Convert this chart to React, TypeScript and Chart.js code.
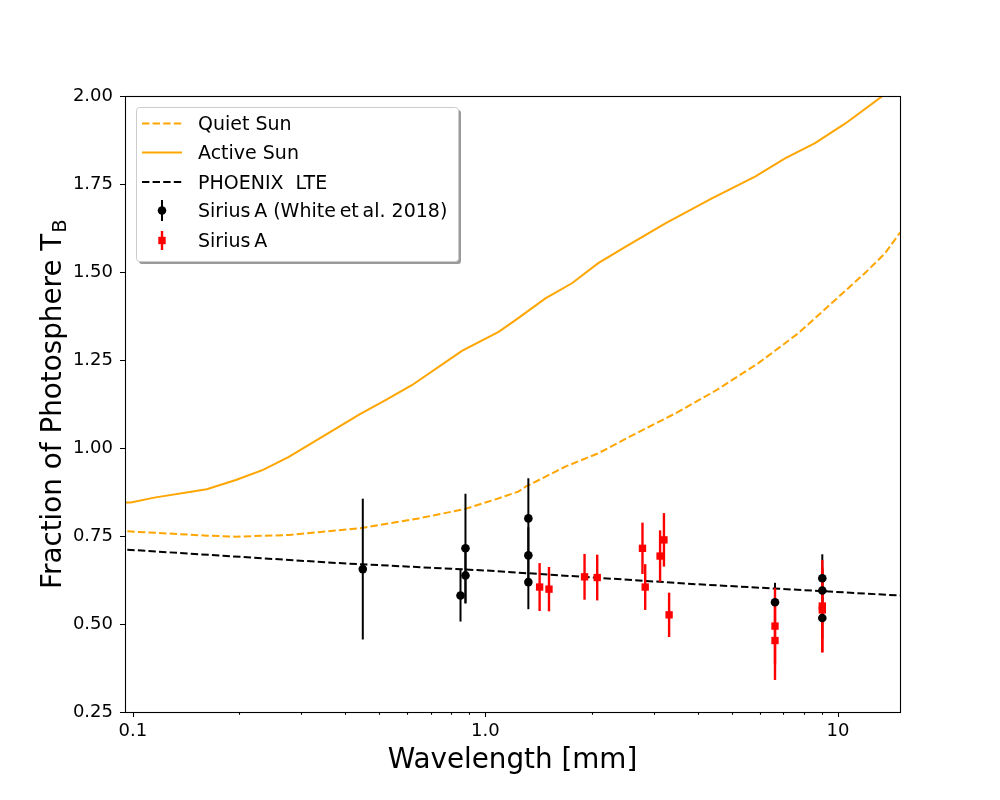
import React, { useEffect, useRef } from 'react';
import { Chart, registerables } from 'chart.js';
import type { Plugin } from 'chart.js';

Chart.register(...registerables);

// quiet sun model (dashed orange)
const quietWl = [0.09, 0.162, 0.196, 0.277, 0.442, 0.647, 0.878, 1.09, 1.24, 1.3, 1.685, 2.09, 2.6, 3.53, 4.48, 5.95, 7.72, 9.59, 11.9, 13.6, 15.0];
const quietTb = [0.765, 0.751, 0.748, 0.753, 0.772, 0.8, 0.827, 0.857, 0.876, 0.89, 0.947, 0.985, 1.035, 1.103, 1.162, 1.241, 1.326, 1.411, 1.496, 1.553, 1.612];

// active sun model (solid orange)
const activeWl = [0.09, 0.0987, 0.115, 0.162, 0.196, 0.234, 0.277, 0.442, 0.521, 0.62, 0.858, 1.09, 1.22, 1.48, 1.76, 2.09, 2.55, 3.24, 4.39, 5.82, 7.08, 8.61, 10.5, 13.3, 15.0];
const activeTb = [0.845, 0.845, 0.859, 0.883, 0.909, 0.938, 0.975, 1.097, 1.136, 1.179, 1.276, 1.33, 1.364, 1.425, 1.468, 1.525, 1.577, 1.638, 1.709, 1.771, 1.823, 1.866, 1.922, 1.998, 2.04];

// PHOENIX LTE photosphere
const phoenixWl = [0.09, 0.384, 1.0, 3.97, 15.0];
const phoenixTb = [0.713, 0.673, 0.652, 0.613, 0.581];

// Sirius A, White et al. 2018
const whiteWl = [0.449, 0.85, 0.878, 0.878, 1.324, 1.324, 1.324, 6.63, 9.03, 9.03, 9.03];
const whiteTb = [0.656, 0.581, 0.715, 0.638, 0.8, 0.695, 0.619, 0.562, 0.63, 0.595, 0.517];
const whiteErr = [0.2, 0.074, 0.155, 0.08, 0.114, 0.08, 0.077, 0.055, 0.068, 0.06, 0.06];

// Sirius A, this work
const siriusWl = [1.425, 1.515, 1.911, 2.076, 2.79, 2.84, 3.13, 3.21, 3.32, 6.63, 6.63, 9.03, 9.03];
const siriusTb = [0.605, 0.599, 0.634, 0.632, 0.715, 0.605, 0.693, 0.739, 0.526, 0.494, 0.453, 0.551, 0.54];
const siriusErr = [0.068, 0.063, 0.065, 0.065, 0.073, 0.065, 0.073, 0.076, 0.063, 0.109, 0.112, 0.131, 0.121];

// axes
const xMajorTicks = [0.1, 1, 10];
const xMajorLabels = ['0.1', '1.0', '10'];
const xMinorTicks = [0.2, 0.3, 0.4, 0.5, 0.6, 0.7, 0.8, 0.9, 2, 3, 4, 5, 6, 7, 8, 9];
const yTicks = [0.25, 0.5, 0.75, 1.0, 1.25, 1.5, 1.75, 2.0];

const legendLabels = ['Quiet Sun', 'Active Sun', 'PHOENIX  LTE', 'Sirius\u2009A (White\u2009et\u2009al. 2018)', 'Sirius\u2009A'];

const FONT = '"DejaVu Sans", sans-serif';
const ORANGE = '#ffa500';
const DASH = [7.4, 3.2];

const pts = (xs: number[], ys: number[]) => xs.map((x, i) => ({ x, y: ys[i] }));

const decor: Plugin<'scatter'> = {
    id: 'mplDecor',
    beforeDatasetDraw(chart, args) {
        // error bars go right under the markers
        if (args.index !== 4) return;
        const ctx = chart.ctx;
        const xs = chart.scales.x;
        const ys = chart.scales.y;
        const a = chart.chartArea;
        ctx.save();
        ctx.beginPath();
        ctx.rect(a.left, a.top, a.right - a.left, a.bottom - a.top);
        ctx.clip();
        const bars = (wl: number[], tb: number[], err: number[], color: string, w: number) => {
            ctx.strokeStyle = color;
            ctx.lineWidth = w;
            wl.forEach((v, i) => {
                const x = xs.getPixelForValue(v);
                ctx.beginPath();
                ctx.moveTo(x, ys.getPixelForValue(tb[i] - err[i]));
                ctx.lineTo(x, ys.getPixelForValue(tb[i] + err[i]));
                ctx.stroke();
            });
        };
        bars(whiteWl, whiteTb, whiteErr, '#000', 2);
        bars(siriusWl, siriusTb, siriusErr, '#ff0000', 2.4);
        ctx.restore();
    },
    afterDraw(chart) {
        const ctx = chart.ctx;
        const xs = chart.scales.x;
        const ys = chart.scales.y;
        const a = chart.chartArea;
        ctx.save();

        // frame
        ctx.strokeStyle = '#000';
        ctx.lineWidth = 1.1;
        ctx.strokeRect(Math.round(a.left) + 0.5, Math.round(a.top) + 0.5, Math.round(a.right - a.left), Math.round(a.bottom - a.top));

        // tick marks
        ctx.beginPath();
        yTicks.forEach(v => {
            const y = Math.round(ys.getPixelForValue(v)) + 0.5;
            ctx.moveTo(a.left, y);
            ctx.lineTo(a.left - 5, y);
        });
        xMajorTicks.forEach(v => {
            const x = Math.round(xs.getPixelForValue(v)) + 0.5;
            ctx.moveTo(x, a.bottom);
            ctx.lineTo(x, a.bottom + 5);
        });
        xMinorTicks.forEach(v => {
            const x = Math.round(xs.getPixelForValue(v)) + 0.5;
            ctx.moveTo(x, a.bottom);
            ctx.lineTo(x, a.bottom + 2.8);
        });
        ctx.stroke();

        // axis titles
        ctx.fillStyle = '#000';
        ctx.font = `27.8px ${FONT}`;
        ctx.textAlign = 'center';
        ctx.textBaseline = 'alphabetic';
        ctx.fillText('Wavelength [mm]', (a.left + a.right) / 2, 768);

        ctx.save();
        ctx.translate(61, 589);
        ctx.rotate(-Math.PI / 2);
        ctx.textAlign = 'left';
        const main = 'Fraction of Photosphere T';
        ctx.fillText(main, 0, 0);
        const w = ctx.measureText(main).width;
        ctx.font = `19.5px ${FONT}`;
        ctx.fillText('B', w + 1, 5);
        ctx.restore();

        // legend
        const bx = 136, by = 107, bw = 322, bh = 154;
        ctx.fillStyle = '#9a9a9a';
        ctx.beginPath();
        ctx.roundRect(bx + 3, by + 3, bw, bh, 3);
        ctx.fill();
        ctx.fillStyle = '#ffffff';
        ctx.strokeStyle = '#cccccc';
        ctx.lineWidth = 1;
        ctx.beginPath();
        ctx.roundRect(bx + 0.5, by + 0.5, bw, bh, 3);
        ctx.fill();
        ctx.stroke();

        const rows = [123.5, 152.5, 182, 210.5, 240.5];
        const hx1 = 142, hx2 = 182, hc = 162;
        ctx.lineWidth = 2;
        // Quiet Sun
        ctx.strokeStyle = ORANGE;
        ctx.setLineDash(DASH);
        ctx.beginPath(); ctx.moveTo(hx1, rows[0]); ctx.lineTo(hx2, rows[0]); ctx.stroke();
        // Active Sun
        ctx.setLineDash([]);
        ctx.beginPath(); ctx.moveTo(hx1, rows[1]); ctx.lineTo(hx2, rows[1]); ctx.stroke();
        // PHOENIX
        ctx.strokeStyle = '#000';
        ctx.setLineDash(DASH);
        ctx.beginPath(); ctx.moveTo(hx1, rows[2]); ctx.lineTo(hx2, rows[2]); ctx.stroke();
        ctx.setLineDash([]);
        // White et al.
        ctx.beginPath(); ctx.moveTo(hc, rows[3] - 10.5); ctx.lineTo(hc, rows[3] + 10.5); ctx.stroke();
        ctx.fillStyle = '#000';
        ctx.beginPath(); ctx.arc(hc, rows[3], 4.3, 0, Math.PI * 2); ctx.fill();
        // Sirius A
        ctx.strokeStyle = '#ff0000';
        ctx.lineWidth = 2.4;
        ctx.beginPath(); ctx.moveTo(hc, rows[4] - 9.5); ctx.lineTo(hc, rows[4] + 9.5); ctx.stroke();
        ctx.fillStyle = '#ff0000';
        ctx.fillRect(hc - 3.7, rows[4] - 3.7, 7.4, 7.4);

        ctx.fillStyle = '#000';
        ctx.font = `19px ${FONT}`;
        ctx.textAlign = 'left';
        ctx.textBaseline = 'alphabetic';
        legendLabels.forEach((t, i) => ctx.fillText(t, 198, rows[i] + 6.5));

        ctx.restore();
    }
};

const App: React.FC = () => {
    const canvasRef = useRef<HTMLCanvasElement | null>(null);

    useEffect(() => {
        const ctx = canvasRef.current?.getContext('2d');
        if (!ctx) return;
        document.body.style.margin = '0';

        const chart = new Chart(ctx, {
            type: 'scatter',
            data: {
                datasets: [
                    {
                        label: 'Quiet Sun', data: pts(quietWl, quietTb), showLine: true, pointRadius: 0,
                        borderColor: ORANGE, borderWidth: 2, borderDash: DASH, order: 2, clip: 0
                    },
                    {
                        label: 'Active Sun', data: pts(activeWl, activeTb), showLine: true, pointRadius: 0,
                        borderColor: ORANGE, borderWidth: 2, order: 2, clip: 0
                    },
                    {
                        label: 'PHOENIX  LTE', data: pts(phoenixWl, phoenixTb), showLine: true, pointRadius: 0,
                        borderColor: '#000', borderWidth: 2, borderDash: DASH, order: 2, clip: 0
                    },
                    {
                        label: 'Sirius A (White et al. 2018)', data: pts(whiteWl, whiteTb), pointStyle: 'circle',
                        pointRadius: 4.3, backgroundColor: '#000', borderWidth: 0, order: 0
                    },
                    {
                        label: 'Sirius A', data: pts(siriusWl, siriusTb), pointStyle: 'rect',
                        pointRadius: 5.2, backgroundColor: '#ff0000', borderWidth: 0, order: 1
                    }
                ]
            },
            options: {
                responsive: false,
                animation: false,
                events: [],
                layout: { padding: { top: 96, right: 100, left: 0, bottom: 0 } },
                plugins: { legend: { display: false }, tooltip: { enabled: false } },
                scales: {
                    x: {
                        type: 'logarithmic',
                        min: 0.095,
                        max: 15,
                        grid: { display: false, drawTicks: false },
                        border: { display: false },
                        ticks: {
                            autoSkip: false,
                            maxRotation: 0,
                            padding: 9,
                            color: '#000',
                            font: { family: FONT, size: 18 },
                            callback: (v: any) => {
                                const i = xMajorTicks.findIndex(m => Math.abs(m - Number(v)) < 1e-9);
                                return i >= 0 ? xMajorLabels[i] : '';
                            }
                        },
                        afterBuildTicks: (s: any) => {
                            s.ticks = [...xMajorTicks, ...xMinorTicks].sort((p, q) => p - q).map(v => ({ value: v }));
                        },
                        afterFit: (s: any) => { s.height = 88; }
                    },
                    y: {
                        min: 0.25,
                        max: 2.0,
                        grid: { display: false, drawTicks: false },
                        border: { display: false },
                        ticks: {
                            stepSize: 0.25,
                            padding: 12,
                            color: '#000',
                            font: { family: FONT, size: 18 },
                            callback: (v: any) => Number(v).toFixed(2)
                        },
                        afterFit: (s: any) => { s.width = 125; }
                    }
                }
            },
            plugins: [decor]
        });

        return () => {
            chart.destroy();
        };
    }, []);

    return (
        <div style={{ width: 1000, height: 800, background: '#fff' }}>
            <canvas ref={canvasRef} width={1000} height={800} />
        </div>
    );
};

export default App;
